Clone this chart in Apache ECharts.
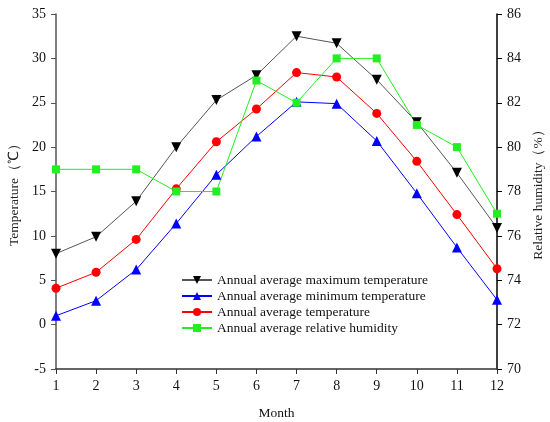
<!DOCTYPE html>
<html>
<head>
<meta charset="utf-8">
<script src="https://cdn.jsdelivr.net/npm/echarts@6/dist/echarts.min.js"></script>
<style>html,body{margin:0;padding:0;background:#fff;}#c{width:550px;height:422px;}</style>
</head>
<body>
<div id="c"></div>
<script>
const months = [1,2,3,4,5,6,7,8,9,10,11,12];
const maxTemp = [8.0, 9.9, 13.9, 20.0, 25.3, 28.1, 32.5, 31.7, 27.6, 22.8, 17.1, 10.9];
const minTemp = [1.0, 2.7, 6.2, 11.4, 16.9, 21.2, 25.1, 24.9, 20.7, 14.8, 8.7, 2.8];
const avgTemp = [4.1, 5.9, 9.6, 15.3, 20.6, 24.3, 28.4, 27.9, 23.8, 18.4, 12.4, 6.3];
const humidity = [79, 79, 79, 78, 78, 83, 82, 84, 84, 81, 80, 77];
const seriesNames = ['Annual average maximum temperature','Annual average minimum temperature','Annual average temperature','Annual average relative humidity'];

const pair = arr => months.map((m,i)=>[m, arr[i]]);
const font = 'Liberation Serif, Times New Roman, serif';
const chart = echarts.init(document.getElementById('c'));
chart.setOption({
  animation:false,
  textStyle:{fontFamily:font},
  grid:{left:56,right:53,top:14,bottom:53,outerBoundsMode:'none',containLabel:false},
  legend:{
    orient:'vertical', left:181, top:273, padding:0, itemWidth:30, itemHeight:10, itemGap:2,
    textStyle:{fontFamily:font,fontSize:13.5,color:'#111'},
    data:seriesNames
  },
  xAxis:{
    type:'value', min:1, max:12, interval:1,
    name:'Month', nameLocation:'middle', nameGap:37,
    nameTextStyle:{fontFamily:font,fontSize:13.5,color:'#111'},
    axisLine:{onZero:false,lineStyle:{color:'#333',width:1.5}},
    axisTick:{length:5,lineStyle:{color:'#333'}},
    axisLabel:{fontFamily:font,fontSize:14,color:'#111',margin:10},
    splitLine:{show:false}
  },
  yAxis:[{
    type:'value', min:-5, max:35, interval:5,
    name:'Temperature（℃）', nameLocation:'middle', nameGap:34, nameRotate:90,
    nameTextStyle:{fontFamily:font,fontSize:13.5,color:'#222'},
    axisLine:{show:true,onZero:false,lineStyle:{color:'#555',width:1.5}},
    axisTick:{show:true,length:5,lineStyle:{color:'#555'}},
    axisLabel:{fontFamily:font,fontSize:14,color:'#111',margin:10},
    splitLine:{show:false}
  },{
    type:'value', min:70, max:86, interval:2, position:'right',
    name:'Relative humidity（%）', nameLocation:'middle', nameGap:32, nameRotate:90,
    nameTextStyle:{fontFamily:font,fontSize:13.5,color:'#222'},
    axisLine:{show:true,onZero:false,lineStyle:{color:'#000',width:1.5}},
    axisTick:{show:true,length:5,lineStyle:{color:'#000'}},
    axisLabel:{fontFamily:font,fontSize:14,color:'#111',margin:10},
    splitLine:{show:false}
  }],
  series:[
    {name:seriesNames[0],type:'line',data:pair(maxTemp),symbol:'triangle',symbolRotate:180,symbolSize:10,
     lineStyle:{color:'#555',width:1},itemStyle:{color:'#000'}},
    {name:seriesNames[1],type:'line',data:pair(minTemp),symbol:'triangle',symbolSize:10,
     lineStyle:{color:'#0000ff',width:1},itemStyle:{color:'#0000ff'}},
    {name:seriesNames[2],type:'line',data:pair(avgTemp),symbol:'circle',symbolSize:9,
     lineStyle:{color:'#ff0000',width:1},itemStyle:{color:'#ff0000'}},
    {name:seriesNames[3],type:'line',yAxisIndex:1,data:pair(humidity),symbol:'rect',symbolSize:8,
     lineStyle:{color:'#22ee22',width:1},itemStyle:{color:'#22ee22'}}
  ]
});
</script>
</body>
</html>
